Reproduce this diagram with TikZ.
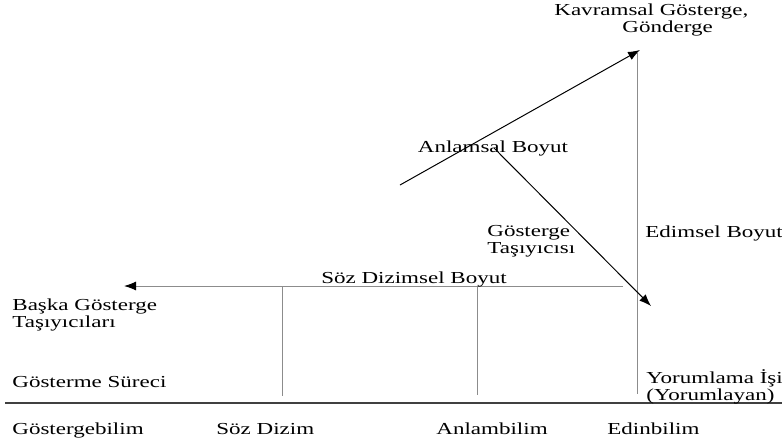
\documentclass[tikz,border=0pt]{standalone}
\usepackage{fontspec}
\setmainfont{Liberation Serif}[FakeStretch=1.37]
\usepackage{tikz}
\usetikzlibrary{arrows.meta, positioning, calc}
\definecolor{lineGray}{gray}{0.55}
\definecolor{baseGray}{gray}{0.25}

\tikzset{
    lbl/.style={inner sep=0pt, font=\fontsize{8.4}{8.2}\selectfont},
    axis/.style={line width=0.5pt, lineGray},
    dim/.style={line width=0.5pt, -{Latex[length=6pt, width=4.5pt, black]}}
}

\begin{document}
\begin{tikzpicture}[x=0.5pt, y=-0.5pt]
    \useasboundingbox (0,0) rectangle (782,441);

    % end points of the dimensions
    \coordinate (S) at (400,185);
    \coordinate (K) at (640,50);
    \coordinate (A) at (494,148);
    \coordinate (E) at (651,306);
    \coordinate (R) at (623,286);
    \coordinate (L) at (124,286);
    \coordinate (Vt) at (637,53);
    \coordinate (Vb) at (637,394);
    \coordinate (Sd) at (282,286);
    \coordinate (Sb) at (282,396);
    \coordinate (An) at (477,286);
    \coordinate (Ab) at (477,395);
    \coordinate (Bl) at (5,403);
    \coordinate (Br) at (782,403);

    % lines
    \draw[axis] (Vt) -- (Vb);
    \draw[axis, dim] (R) -- (L);
    \draw[axis] (Sd) -- (Sb);
    \draw[axis] (An) -- (Ab);
    \draw[line width=0.6pt, baseGray] (Bl) -- (Br);
    \draw[dim] (S) -- (K);
    \draw[dim] (A) -- (E);

    % labels (multi-line: base = last line)
    \node[lbl, anchor=base west, align=left] (kavram) at (554,32)
        {Kavramsal Gösterge,\\\hspace*{34pt}Gönderge};
    \node[lbl, anchor=base] (anlamsal) at (493,152) {Anlamsal Boyut};
    \node[lbl, anchor=base west, align=left] (tasiyici) at (487,253)
        {Gösterge\\Taşıyıcısı};
    \node[lbl, anchor=base west] (edimsel) at (645,237) {Edimsel Boyut};
    \node[lbl, anchor=base] (sozdizimsel) at (414,283) {Söz Dizimsel Boyut};
    \node[lbl, anchor=base west, align=left] (baska) at (12,327)
        {Başka Gösterge\\Taşıyıcıları};
    \node[lbl, anchor=base west] (surec) at (12,387) {Gösterme Süreci};
    \node[lbl, anchor=base west, align=left] (yorum) at (646,400)
        {Yorumlama İşi\\(Yorumlayan)};

    \node[lbl, anchor=base west] (gosterge) at (12,434) {Göstergebilim};
    \node[lbl, anchor=base west] (sozdizim) at (216,434) {Söz Dizim};
    \node[lbl, anchor=base west] (anlam) at (436,434) {Anlambilim};
    \node[lbl, anchor=base west] (edin) at (607,434) {Edinbilim};
\end{tikzpicture}
\end{document}
